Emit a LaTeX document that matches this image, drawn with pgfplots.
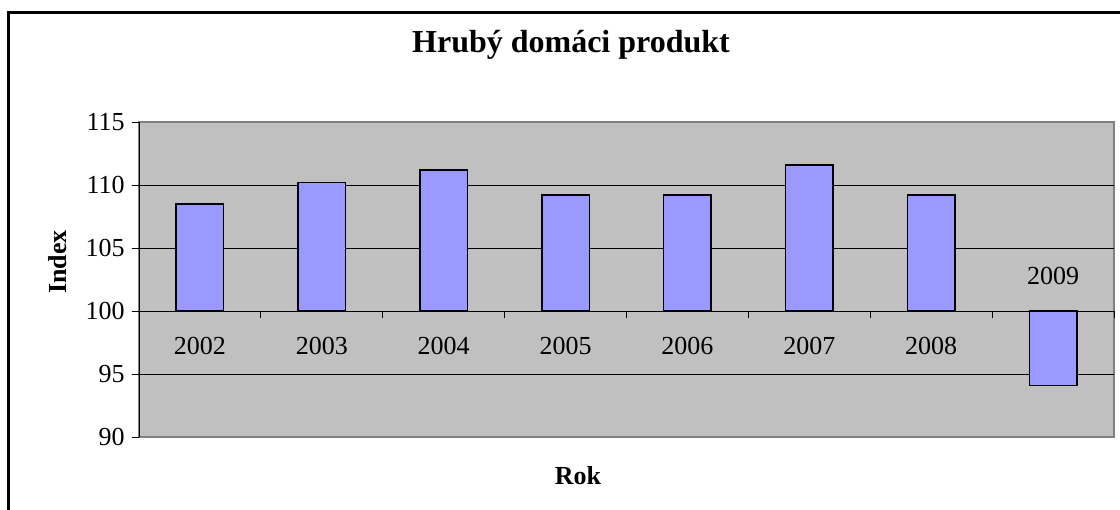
\documentclass[border=0pt]{standalone}
\usepackage{fontspec}
\setmainfont{Liberation Serif}
\usepackage{pgfplots}
\usepackage{pgfplotstable}
\pgfplotsset{compat=1.18}

\definecolor{plotbg}{RGB}{192,192,192}
\definecolor{barfill}{RGB}{153,153,255}
\definecolor{plotframe}{RGB}{128,128,128}

% index HDP, predchadzajuci rok = 100
\pgfplotstableread{
pos year idx
0 2002 108.5
1 2003 110.2
2 2004 111.2
3 2005 109.2
4 2006 109.2
5 2007 111.6
6 2008 109.2
7 2009 94.1
}\gdpdata

\begin{document}
\begin{tikzpicture}[x=0.75pt,y=-0.75pt]
\useasboundingbox (0,0) rectangle (1120,510);
\draw[line width=2pt] (8.5,12.5) rectangle (1140,530);
\node[font=\bfseries\fontsize{24}{28}\selectfont] at (571,45) {Hrubý domáci produkt};
\node[font=\bfseries\fontsize{19.5}{23}\selectfont, rotate=90] at (58,262) {Index};
\node[font=\bfseries\fontsize{19.5}{23}\selectfont] at (578,476) {Rok};

\begin{axis}[
    at={(104.25pt,-327.75pt)}, anchor=south west,
    scale only axis,
    width=731.25pt, height=236.25pt,
    xmin=-0.5, xmax=7.5,
    ymin=-10, ymax=15,
    axis x line=middle,
    axis y line=left,
    x axis line style={-, black, line width=0.6pt},
    y axis line style={-, black, line width=0.6pt},
    axis background/.style={fill=plotbg, draw=plotframe, line width=0.8pt},
    ytick={-10,-5,...,15},
    yticklabels={90,95,100,105,110,115},
    ytick align=outside,
    extra y ticks={-5,5,10},
    extra y tick labels={},
    extra y tick style={ymajorgrids=true, grid style={black, line width=0.6pt}},
    major tick length=5.25pt,
    tick style={black, line width=0.6pt},
    xtick={0.5,1.5,...,7.5},
    xticklabels={},
    xtick align=outside,
    extra x ticks={0,...,6},
    extra x tick labels={2002,2003,2004,2005,2006,2007,2008},
    extra x tick style={major tick length=0pt, xticklabel style={yshift=-16pt}},
    yticklabel style={xshift=-2pt},
    tick label style={font=\fontsize{19.5}{23}\selectfont},
    /pgf/number format/assume math mode=true,
    clip=false,
]
\addplot[ybar, bar width=0.39, fill=barfill, draw=black, line width=1.1pt]
    table[x=pos, y expr=\thisrow{idx}-100] {\gdpdata};
\node[font=\fontsize{19.5}{23}\selectfont] at (axis cs:7,2.75) {2009};
\end{axis}
\end{tikzpicture}
\end{document}
